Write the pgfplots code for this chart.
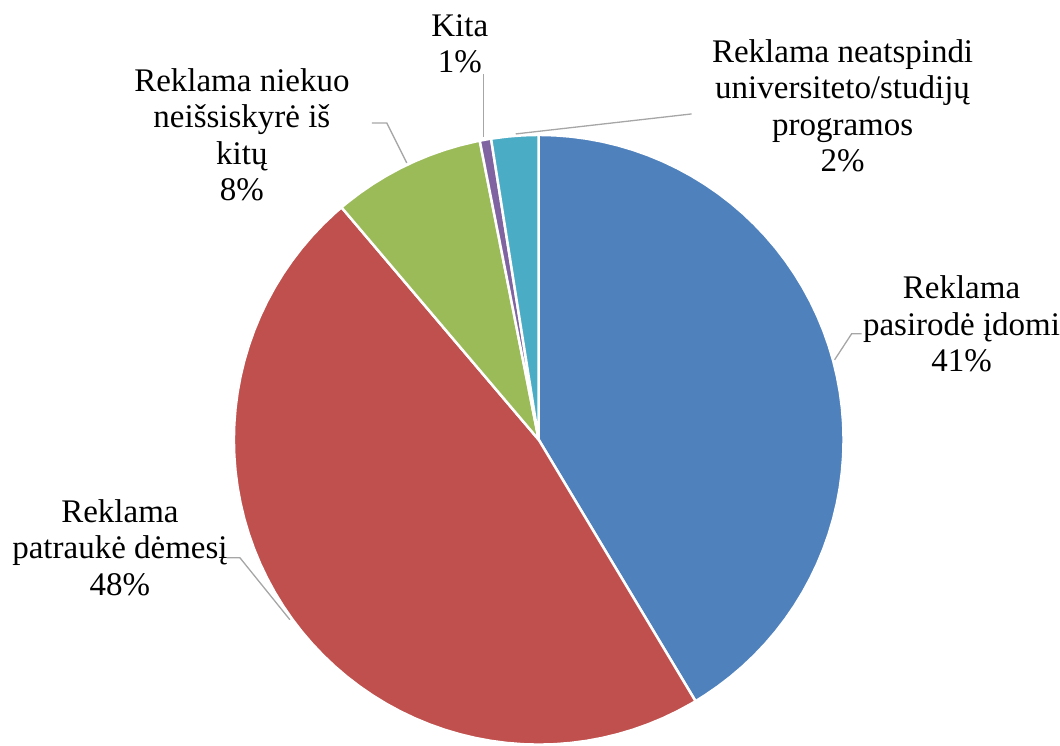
\documentclass[border=0pt]{standalone}
\usepackage{fontspec}
\setmainfont{Liberation Serif}
\usepackage{pgfplots}
\pgfplotsset{compat=1.18}
\definecolor{cBlue}{HTML}{4F81BD}
\definecolor{cRed}{HTML}{C0504D}
\definecolor{cGreen}{HTML}{9BBB59}
\definecolor{cPurple}{HTML}{8064A2}
\definecolor{cTeal}{HTML}{4BACC6}
\definecolor{cLead}{HTML}{A6A6A6}
\begin{document}
\begin{tikzpicture}
\begin{axis}[hide axis, x=1pt, y=1pt, xmin=-539, xmax=521, ymin=-305, ymax=440,
  clip=false, axis line style={draw=none}]
\addplot[draw=none, forget plot] coordinates {(-539,-305) (521,440)};
% wedges: (angle, radius) ; values 41.4, 47.4, 8.1, 0.6, 2.5 %
\addplot[data cs=polar, fill=cBlue, draw=white, line width=2.5pt, line join=round] coordinates {(0,0) (-59.04,305) (-57,305) (-54,305) (-51,305) (-48,305) (-45,305) (-42,305) (-39,305) (-36,305) (-33,305) (-30,305) (-27,305) (-24,305) (-21,305) (-18,305) (-15,305) (-12,305) (-9,305) (-6,305) (-3,305) (0,305) (3,305) (6,305) (9,305) (12,305) (15,305) (18,305) (21,305) (24,305) (27,305) (30,305) (33,305) (36,305) (39,305) (42,305) (45,305) (48,305) (51,305) (54,305) (57,305) (60,305) (63,305) (66,305) (69,305) (72,305) (75,305) (78,305) (81,305) (84,305) (87,305) (90,305) (0,0)};
\addplot[data cs=polar, fill=cRed, draw=white, line width=2.5pt, line join=round] coordinates {(0,0) (130.32,305) (132,305) (135,305) (138,305) (141,305) (144,305) (147,305) (150,305) (153,305) (156,305) (159,305) (162,305) (165,305) (168,305) (171,305) (174,305) (177,305) (180,305) (183,305) (186,305) (189,305) (192,305) (195,305) (198,305) (201,305) (204,305) (207,305) (210,305) (213,305) (216,305) (219,305) (222,305) (225,305) (228,305) (231,305) (234,305) (237,305) (240,305) (243,305) (246,305) (249,305) (252,305) (255,305) (258,305) (261,305) (264,305) (267,305) (270,305) (273,305) (276,305) (279,305) (282,305) (285,305) (288,305) (291,305) (294,305) (297,305) (300,305) (300.96,305) (0,0)};
\addplot[data cs=polar, fill=cGreen, draw=white, line width=2.5pt, line join=round] coordinates {(0,0) (101.16,305) (102,305) (105,305) (108,305) (111,305) (114,305) (117,305) (120,305) (123,305) (126,305) (129,305) (130.32,305) (0,0)};
\addplot[data cs=polar, fill=cPurple, draw=white, line width=2.5pt, line join=round] coordinates {(0,0) (99,305) (100,305) (101.16,305) (0,0)};
\addplot[data cs=polar, fill=cTeal, draw=white, line width=2.5pt, line join=round] coordinates {(0,0) (90,305) (93,305) (96,305) (99,305) (0,0)};
% leader lines
\addplot[cLead, line width=1.3pt] coordinates {(-23,306) (153,326)};
\addplot[cLead, line width=1.3pt] coordinates {(-55,366) (-55,303)};
\addplot[cLead, line width=1.3pt] coordinates {(-167,317) (-152,317) (-132,277)};
\addplot[cLead, line width=1.3pt] coordinates {(296,80) (313,106) (323,106)};
\addplot[cLead, line width=1.3pt] coordinates {(-312,-118) (-299,-118) (-249,-180)};
% labels
\tikzset{lbl/.style={align=center, inner sep=0pt, font=\fontsize{33}{36.5}\selectfont}}
\node[lbl] at (axis cs:304,334) {Reklama neatspindi\\universiteto/studijų\\programos\\2\%};
\node[lbl] at (axis cs:-79,396) {Kita\\1\%};
\node[lbl] at (axis cs:-297,305) {Reklama niekuo\\neišsiskyrė iš\\kitų\\8\%};
\node[lbl] at (axis cs:423,116) {Reklama\\pasirodė įdomi\\41\%};
\node[lbl] at (axis cs:-419,-108) {Reklama\\patraukė dėmesį\\48\%};
\end{axis}
\end{tikzpicture}
\end{document}
